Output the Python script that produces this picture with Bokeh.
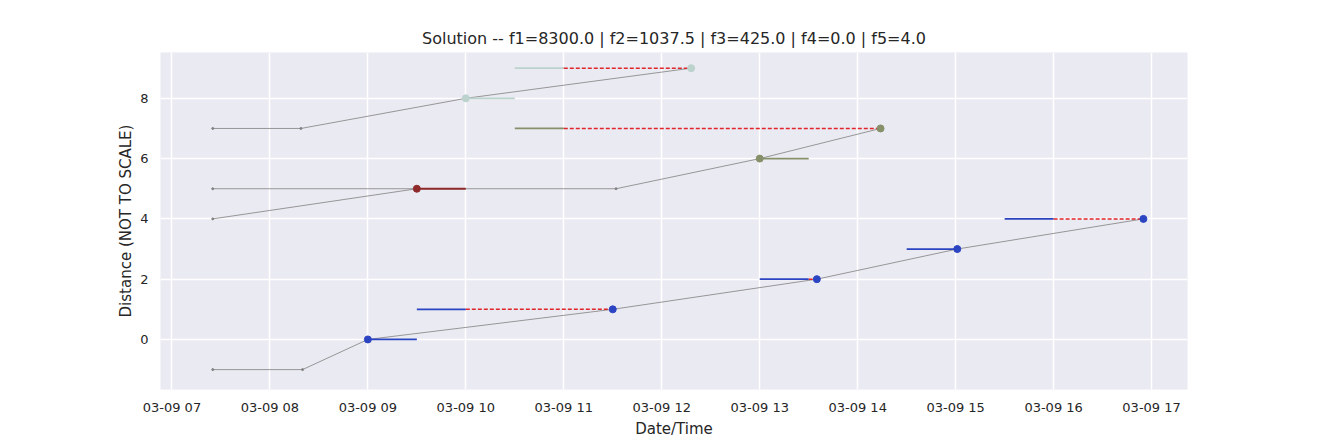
import pandas as pd
from bokeh.plotting import figure
from bokeh.models import FixedTicker, DatetimeTickFormatter, Range1d
from bokeh.embed import file_html
from bokeh.resources import INLINE

DAY = "2024-03-09 "

# route lines (gray): times and distances per vehicle
route_times = [
    ["07:25", "08:20", "09:00", "11:30", "13:35", "15:01", "16:55"],
    ["07:25", "09:30"],
    ["07:25", "11:32", "13:00", "14:14"],
    ["07:25", "08:19", "10:00", "12:18"],
]
route_dist = [
    [-1, -1, 0, 1, 2, 3, 4],
    [4, 5],
    [5, 5, 6, 7],
    [7, 7, 8, 9],
]

# stops: distance, window start, window end, arrival, colour
stop_dist = [0, 1, 2, 3, 4, 5, 6, 7, 8, 9]
win_start = ["09:00", "09:30", "13:00", "14:30", "15:30", "09:30", "13:00", "10:30", "10:00", "10:30"]
win_end = ["09:30", "10:00", "13:30", "15:00", "16:00", "10:00", "13:30", "11:00", "10:30", "11:00"]
arrival = ["09:00", "11:30", "13:35", "15:01", "16:55", "09:30", "13:00", "14:14", "10:00", "12:18"]
stop_color = ["#2b44c2"] * 5 + ["#8e2a2a", "#86906a", "#86906a", "#bcd2cc", "#bcd2cc"]

tick_hours = list(range(7, 18))


def t(s):
    return pd.Timestamp(DAY + s)


p = figure(width=1320, height=440, x_axis_type="datetime",
           output_backend="svg", toolbar_location=None,
           min_border_left=160, min_border_right=133,
           min_border_top=52, min_border_bottom=44,
           background_fill_color="#eaeaf2", border_fill_color="white",
           outline_line_color=None)
p.title.text = "Solution -- f1=8300.0 | f2=1037.5 | f3=425.0 | f4=0.0 | f5=4.0"
p.title.align = "center"
p.title.text_font = "DejaVu Sans"
p.title.text_font_size = "16px"
p.title.text_font_style = "normal"
p.title.text_color = "#262626"

p.x_range = Range1d(t("06:53"), t("17:22"))
p.y_range = Range1d(-1.66, 9.52)

for ts, ds in zip(route_times, route_dist):
    p.line([t(s) for s in ts], ds, line_color="gray", line_width=0.8)
    p.scatter([t(s) for s in ts[:2]], ds[:2], size=2, color="gray")

for d, ws, we, ar, c in zip(stop_dist, win_start, win_end, arrival, stop_color):
    p.line([t(ws), t(we)], [d, d], line_color=c, line_width=1.8)
    if t(ar) > t(we):
        p.line([t(we), t(ar)], [d, d], line_color="#e0262a", line_width=1.5,
               line_dash="4 2")
    p.scatter([t(ar)], [d], size=7, color=c)

p.xaxis.ticker = FixedTicker(ticks=[t("%02d:00" % h).value / 1e6 for h in tick_hours])
p.xaxis.formatter = DatetimeTickFormatter(hours="%m-%d %H", days="%m-%d %H")
p.yaxis.ticker = FixedTicker(ticks=[0, 2, 4, 6, 8])
p.xaxis.axis_label = "Date/Time"
p.yaxis.axis_label = "Distance (NOT TO SCALE)"

for ax in (p.xaxis, p.yaxis):
    ax.axis_line_color = None
    ax.major_tick_line_color = None
    ax.minor_tick_line_color = None
    ax.major_label_text_font = "DejaVu Sans"
    ax.major_label_text_font_size = "13px"
    ax.major_label_text_color = "#262626"
    ax.axis_label_text_font = "DejaVu Sans"
    ax.axis_label_text_font_size = "15px"
    ax.axis_label_text_font_style = "normal"
    ax.axis_label_text_color = "#262626"
    ax.axis_label_standoff = 2
    ax.major_label_standoff = 6

p.xaxis.major_label_standoff = 4

p.grid.grid_line_color = "white"
p.grid.grid_line_width = 1.5

open("out.html", "w").write(file_html(p, INLINE))
